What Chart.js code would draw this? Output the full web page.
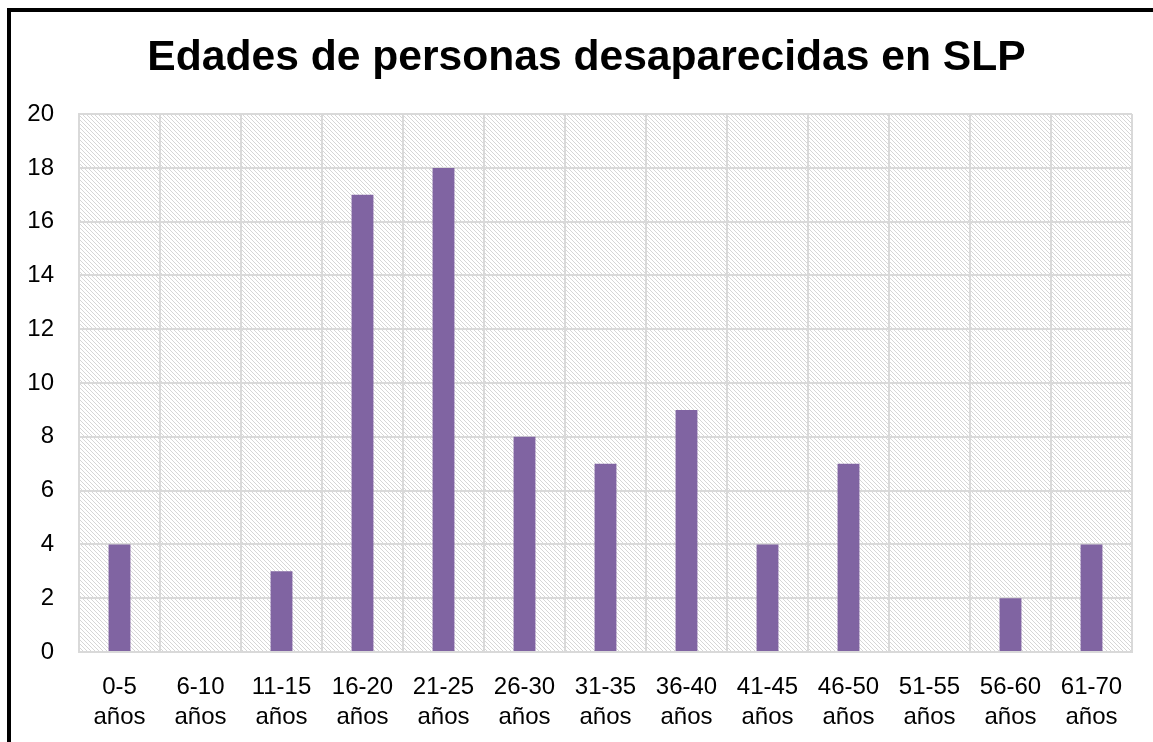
<!DOCTYPE html>
<html>
<head>
<meta charset="utf-8">
<script src="https://cdn.jsdelivr.net/npm/chart.js@4"></script>
<style>
  html, body { margin: 0; padding: 0; background: #fff; overflow: hidden; }
  #wrap { position: relative; width: 1153px; height: 742px; }
  #frame { position: absolute; left: 7px; top: 8px; width: 1200px; height: 800px;
           border-left: 4px solid #000; border-top: 4px solid #000; pointer-events: none; }
</style>
</head>
<body>
<div id="wrap">
  <canvas id="myChart" width="1153" height="742"></canvas>
  <div id="frame"></div>
</div>
<script>
const ageGroups = ['0-5', '6-10', '11-15', '16-20', '21-25', '26-30', '31-35',
                   '36-40', '41-45', '46-50', '51-55', '56-60', '61-70'];
const missingCounts = [4, 0, 3, 17, 18, 8, 7, 9, 4, 7, 0, 2, 4];
const chartTitle = 'Edades de personas desaparecidas en SLP';

const labels = ageGroups.map(g => [g, 'años']);

// light downward diagonal hatch, like the excel pattern fill
function makeHatch() {
  const c = document.createElement('canvas');
  c.width = 8; c.height = 8;
  const g = c.getContext('2d');
  g.fillStyle = '#fff';
  g.fillRect(0, 0, 8, 8);
  g.fillStyle = '#d6d6d6';
  for (let y = 0; y < 8; y++)
    for (let x = 0; x < 8; x++)
      if (((x - y) % 4 + 4) % 4 === 0) g.fillRect(x, y, 1, 1);
  return c;
}

const hatchBg = {
  id: 'hatchBg',
  beforeDraw(chart) {
    const { ctx, chartArea: a } = chart;
    ctx.save();
    ctx.fillStyle = ctx.createPattern(makeHatch(), 'repeat');
    ctx.fillRect(a.left, a.top, a.right - a.left, a.bottom - a.top);
    ctx.restore();
  }
};

const font = 'Liberation Sans, Arial, sans-serif';

new Chart(document.getElementById('myChart'), {
  type: 'bar',
  data: {
    labels: labels,
    datasets: [{
      data: missingCounts,
      backgroundColor: '#8064A2',
      categoryPercentage: 1,
      barPercentage: 0.27
    }]
  },
  options: {
    responsive: false,
    animation: false,
    layout: { padding: { left: 20, right: 0, top: 0, bottom: 0 } },
    plugins: {
      legend: { display: false },
      tooltip: { enabled: false },
      title: {
        display: true,
        text: chartTitle,
        color: '#000',
        font: { family: font, size: 42.6, weight: 'bold', lineHeight: 1.2 },
        padding: { top: 33, bottom: 30 }
      }
    },
    scales: {
      x: {
        grid: { color: '#d9d9d9', lineWidth: 2, drawTicks: false },
        border: { color: '#d9d9d9', width: 2 },
        ticks: {
          color: '#000', padding: 20, maxRotation: 0, autoSkip: false,
          font: { family: font, size: 24, lineHeight: 1.25 }
        },
        afterFit(scale) { scale.height = 90; }
      },
      y: {
        min: 0, max: 20,
        grid: { color: '#d9d9d9', lineWidth: 2, drawTicks: false },
        border: { color: '#d9d9d9', width: 2 },
        ticks: {
          stepSize: 2, color: '#000', padding: 25,
          font: { family: font, size: 24 }
        },
        afterFit(scale) { scale.width = 59; }
      },
      // empty right axis, only keeps a margin so the title centres like the original
      yRight: {
        position: 'right',
        grid: { display: false },
        border: { display: false },
        ticks: { display: false },
        afterFit(scale) { scale.width = 21; }
      }
    }
  },
  plugins: [hatchBg]
});
</script>
</body>
</html>
